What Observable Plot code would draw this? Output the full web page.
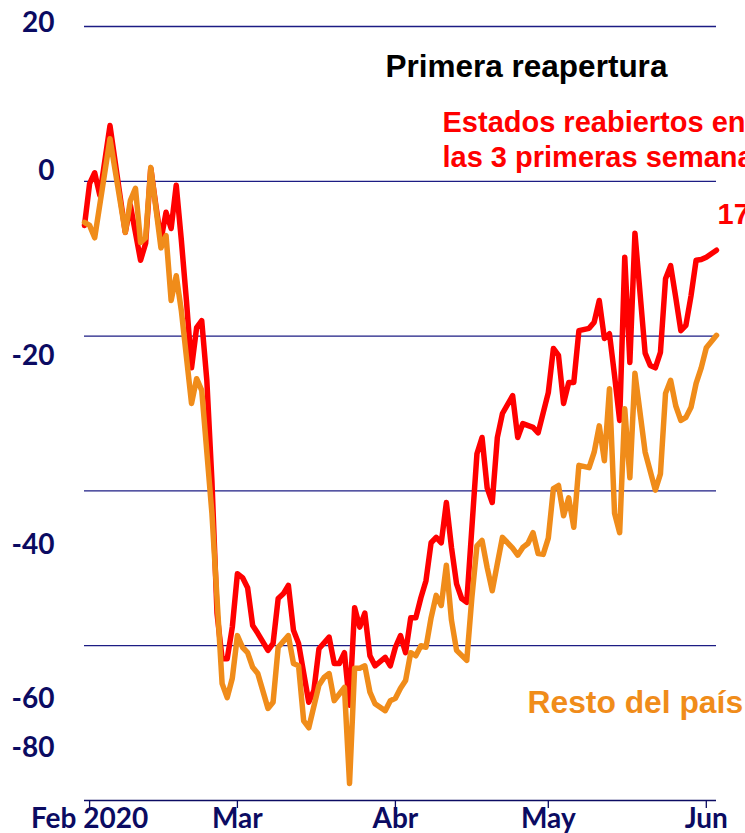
<!DOCTYPE html>
<html>
<head>
<meta charset="utf-8">
<script src="https://cdn.jsdelivr.net/npm/d3@7"></script>
<script src="https://cdn.jsdelivr.net/npm/@observablehq/plot@0.6"></script>
<style>
  html, body { margin: 0; padding: 0; background: #ffffff; overflow: hidden; }
  #chart { width: 745px; height: 833px; }
</style>
</head>
<body>
<div id="chart"></div>
<script>
// ---- Data ----
const redDates = [
  "2020-01-31","2020-02-01","2020-02-02","2020-02-03","2020-02-05","2020-02-08","2020-02-09","2020-02-11",
  "2020-02-12","2020-02-13","2020-02-14","2020-02-15","2020-02-16","2020-02-17","2020-02-18","2020-02-19",
  "2020-02-20","2020-02-21","2020-02-22","2020-02-23","2020-02-24","2020-02-25","2020-02-26","2020-02-27",
  "2020-02-28","2020-02-29","2020-03-01","2020-03-02","2020-03-03","2020-03-04","2020-03-05","2020-03-07",
  "2020-03-08","2020-03-09","2020-03-10","2020-03-11","2020-03-12","2020-03-13","2020-03-15","2020-03-16",
  "2020-03-17","2020-03-19","2020-03-20","2020-03-21","2020-03-22","2020-03-23","2020-03-24","2020-03-25",
  "2020-03-26","2020-03-27","2020-03-28","2020-03-30","2020-03-31","2020-04-01","2020-04-02","2020-04-03",
  "2020-04-04","2020-04-05","2020-04-06","2020-04-07","2020-04-08","2020-04-09","2020-04-10","2020-04-11",
  "2020-04-12","2020-04-13","2020-04-14","2020-04-15","2020-04-17","2020-04-18","2020-04-19","2020-04-20",
  "2020-04-21","2020-04-22","2020-04-24","2020-04-25","2020-04-26","2020-04-28","2020-04-29","2020-05-01",
  "2020-05-02","2020-05-03","2020-05-04","2020-05-05","2020-05-06","2020-05-07","2020-05-09","2020-05-10",
  "2020-05-11","2020-05-12","2020-05-13","2020-05-14","2020-05-15","2020-05-16","2020-05-17","2020-05-18",
  "2020-05-20","2020-05-21","2020-05-22","2020-05-23","2020-05-24","2020-05-25","2020-05-26","2020-05-27",
  "2020-05-28","2020-05-29","2020-05-30","2020-05-31","2020-06-01","2020-06-03"
];
const redValues = [
  -5.7, -0.3, 1.1, -1.8, 7.2, -6.6, -3.1, -10.2,
  -8.0, 1.7, -3.1, -7.6, -4.0, -6.1, -0.5, -7.6,
  -15.4, -24.1, -18.9, -18.0, -25.7, -38.7, -55.8, -61.7,
  -61.7, -57.6, -50.7, -51.2, -52.5, -57.4, -58.4, -60.6,
  -59.7, -53.9, -53.3, -52.2, -58.0, -59.7, -67.3, -65.8,
  -60.4, -58.9, -62.3, -62.3, -60.9, -67.7, -55.1, -57.6,
  -55.8, -61.3, -62.6, -61.5, -62.6, -60.2, -58.7, -60.9,
  -56.4, -56.4, -53.8, -51.6, -46.7, -46.0, -46.7, -41.5,
  -47.3, -52.0, -53.9, -54.4, -35.2, -33.1, -39.6, -41.5,
  -33.1, -30.0, -27.7, -33.1, -31.3, -31.8, -32.5, -27.3,
  -21.6, -22.5, -28.7, -26.0, -26.0, -19.3, -19.0, -18.2,
  -15.4, -20.3, -19.7, -25.1, -30.9, -9.8, -23.4, -6.7,
  -22.2, -23.8, -24.1, -22.1, -12.6, -10.9, -15.0, -19.3,
  -18.6, -14.8, -10.2, -10.1, -9.8, -8.9
];

const orangeDates = [
  "2020-01-31","2020-02-01","2020-02-02","2020-02-05","2020-02-08","2020-02-09","2020-02-10","2020-02-11",
  "2020-02-12","2020-02-13","2020-02-15","2020-02-16","2020-02-17","2020-02-18","2020-02-19","2020-02-21",
  "2020-02-22","2020-02-23","2020-02-25","2020-02-27","2020-02-28","2020-02-29","2020-03-01","2020-03-02",
  "2020-03-03","2020-03-04","2020-03-05","2020-03-07","2020-03-08","2020-03-09","2020-03-11","2020-03-12",
  "2020-03-13","2020-03-14","2020-03-15","2020-03-17","2020-03-18","2020-03-19","2020-03-20","2020-03-22",
  "2020-03-23","2020-03-24","2020-03-25","2020-03-26","2020-03-27","2020-03-28","2020-03-30","2020-03-31",
  "2020-04-01","2020-04-02","2020-04-03","2020-04-04","2020-04-05","2020-04-06","2020-04-07","2020-04-08",
  "2020-04-09","2020-04-10","2020-04-11","2020-04-12","2020-04-13","2020-04-15","2020-04-16","2020-04-17",
  "2020-04-18","2020-04-19","2020-04-20","2020-04-21","2020-04-22","2020-04-24","2020-04-25","2020-04-26",
  "2020-04-27","2020-04-28","2020-04-29","2020-04-30","2020-05-01","2020-05-02","2020-05-03","2020-05-04",
  "2020-05-05","2020-05-06","2020-05-07","2020-05-09","2020-05-10","2020-05-11","2020-05-12","2020-05-13",
  "2020-05-14","2020-05-15","2020-05-16","2020-05-17","2020-05-18","2020-05-20","2020-05-22","2020-05-23",
  "2020-05-24","2020-05-25","2020-05-26","2020-05-27","2020-05-28","2020-05-29","2020-05-30","2020-05-31",
  "2020-06-01","2020-06-03"
];
const orangeValues = [
  -5.3, -5.7, -7.3, 5.5, -6.6, -2.5, -0.9, -7.9,
  -7.3, 1.8, -8.6, -7.0, -15.4, -12.2, -16.7, -28.7,
  -25.5, -27.0, -42.9, -64.9, -66.7, -64.2, -58.7, -60.2,
  -60.9, -62.8, -63.6, -68.1, -67.3, -60.2, -58.7, -62.3,
  -62.6, -69.7, -70.6, -65.1, -64.1, -63.6, -67.1, -65.4,
  -77.8, -62.9, -62.9, -62.6, -66.0, -67.5, -68.4, -67.1,
  -66.8, -65.5, -64.5, -60.9, -61.3, -60.0, -60.2, -56.4,
  -53.5, -54.8, -49.6, -56.7, -60.6, -61.9, -53.8, -47.1,
  -46.4, -49.9, -52.9, -49.4, -46.0, -47.4, -48.3, -47.3,
  -46.8, -45.4, -48.1, -48.2, -46.1, -39.7, -39.3, -43.2,
  -40.9, -44.7, -36.7, -37.0, -35.0, -31.6, -36.1, -26.8,
  -42.9, -45.4, -29.4, -38.3, -24.8, -35.0, -39.9, -37.8,
  -27.4, -25.7, -29.0, -30.9, -30.5, -29.2, -26.1, -24.1,
  -21.5, -19.9
];

const xDomain = ["2020-01-31", "2020-06-03"];
const xTickDates = ["2020-02-01", "2020-03-01", "2020-04-01", "2020-05-01", "2020-06-01"];
const xTickLabels = ["Feb 2020", "Mar", "Abr", "May", "Jun"];

const yDomain = [-80, 20];
const gridValues = [20, 0, -20, -40, -60];
// tick labels as they sit in the reference (not aligned with the gridlines)
const yTickValues = [20.5, 1.3, -22.6, -47.0, -66.9, -73.2];
const yTickLabels = ["20", "0", "-20", "-40", "-60", "-80"];

const seriesNames = ["Estados reabiertos en las 3 primeras semanas", "Resto del país"];

// ---- Build ----
const parse = d3.utcParse("%Y-%m-%d");
const red = redDates.map((d, i) => ({date: parse(d), value: redValues[i], series: seriesNames[0]}));
const orange = orangeDates.map((d, i) => ({date: parse(d), value: orangeValues[i], series: seriesNames[1]}));
const xTicks = xTickDates.map(parse);

const navy = "#0b0b62";
const redColor = "#ff0000";
const orangeColor = "#f08c1a";
const annFont = "'Liberation Sans', Arial, sans-serif";

const chart = Plot.plot({
  width: 745,
  height: 833,
  marginLeft: 84,
  marginRight: 29,
  marginTop: 26,
  marginBottom: 33,
  style: {
    fontFamily: "Lato, 'Open Sans', sans-serif",
    fontSize: "28px",
    fontWeight: "700",
    color: navy,
    background: "#ffffff",
    overflow: "visible"
  },
  x: {type: "utc", domain: xDomain.map(parse), label: null},
  y: {domain: yDomain, label: null},
  marks: [
    Plot.ruleY(gridValues, {stroke: "#1c1c84", strokeWidth: 1.3}),
    Plot.ruleY([yDomain[0]], {stroke: navy, strokeWidth: 1.6}),
    Plot.axisX({
      ticks: xTicks,
      tickFormat: d => xTickLabels[xTicks.findIndex(t => +t === +d)],
      tickSize: 8,
      tickPadding: 0,
      label: null,
      fontSize: 28,
      fontWeight: 700,
      fill: navy,
      stroke: navy,
      strokeWidth: 1.3
    }),
    Plot.axisY({
      ticks: yTickValues,
      tickFormat: d => yTickLabels[yTickValues.indexOf(d)],
      tickSize: 0,
      tickPadding: 30,
      label: null,
      fontSize: 28,
      fontWeight: 700,
      fill: navy
    }),
    Plot.lineY(red, {x: "date", y: "value", stroke: redColor, strokeWidth: 5.5, strokeLinejoin: "round"}),
    Plot.lineY(orange, {x: "date", y: "value", stroke: orangeColor, strokeWidth: 5.5, strokeLinejoin: "round"}),
    Plot.text(["Primera reapertura"], {
      text: d => d, frameAnchor: "top-left", dx: 301, dy: 28.2, textAnchor: "start",
      fontSize: 31.5, fontWeight: 700, fontFamily: annFont, fill: "#000000"
    }),
    Plot.text(["Estados reabiertos en"], {
      text: d => d, frameAnchor: "top-left", dx: 358, dy: 84.7, textAnchor: "start",
      fontSize: 29, fontWeight: 700, fontFamily: annFont, fill: redColor
    }),
    Plot.text(["las 3 primeras semanas"], {
      text: d => d, frameAnchor: "top-left", dx: 358, dy: 119.7, textAnchor: "start",
      fontSize: 29, fontWeight: 700, fontFamily: annFont, fill: redColor
    }),
    Plot.text(["17"], {
      text: d => d, frameAnchor: "top-left", dx: 633, dy: 176.7, textAnchor: "start",
      fontSize: 29, fontWeight: 700, fontFamily: annFont, fill: redColor
    }),
    Plot.text([seriesNames[1]], {
      text: d => d, frameAnchor: "top-left", dx: 443, dy: 664, textAnchor: "start",
      fontSize: 31.8, fontWeight: 700, fontFamily: annFont, fill: orangeColor
    })
  ]
});

document.getElementById("chart").appendChild(chart);
</script>
</body>
</html>
